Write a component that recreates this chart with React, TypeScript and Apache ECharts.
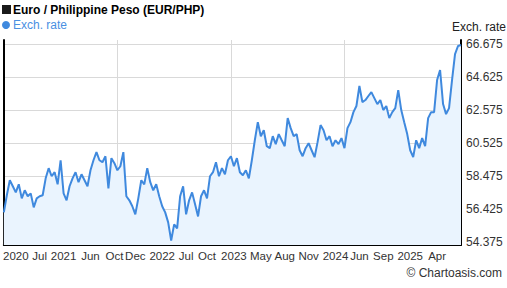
import React, { useEffect, useRef } from "react";
import * as echarts from "echarts";

const TITLE = "Euro / Philippine Peso (EUR/PHP)";
const SERIES_NAME = "Exch. rate";

// EUR/PHP exchange rate (evenly spaced samples)
const rates: number[] = [
  56.24, 57.30, 58.23, 57.86, 57.48, 57.98, 57.11, 57.61, 57.24, 57.42,
  56.55, 57.11, 57.24, 57.30, 58.35, 58.98, 58.48, 58.73, 57.98, 59.47,
  57.42, 56.99, 57.86, 58.35, 58.73, 58.11, 58.60, 58.23, 57.86, 58.85,
  59.47, 59.97, 59.47, 59.35, 59.72, 57.73, 59.60, 59.29, 58.85, 59.10,
  59.97, 57.24, 56.99, 56.62, 56.12, 57.11, 58.23, 57.98, 58.98, 58.11,
  57.61, 57.98, 57.24, 56.62, 56.24, 55.62, 54.50, 55.50, 55.25, 57.24,
  57.86, 56.12, 56.99, 57.48, 56.74, 55.99, 57.24, 57.61, 57.11, 58.48,
  58.73, 59.35, 58.48, 58.98, 58.60, 59.47, 59.72, 59.10, 59.60, 58.73,
  58.54, 58.85, 58.35, 59.47, 60.71, 61.83, 60.96, 61.33, 60.34, 60.22,
  60.96, 60.47, 61.09, 60.71, 60.34, 62.08, 61.46, 60.96, 61.09, 60.09,
  59.72, 60.22, 60.53, 60.09, 59.66, 60.59, 61.65, 61.33, 60.71, 60.96,
  60.34, 60.71, 60.47, 60.84, 60.22, 61.46, 61.83, 62.45, 62.83, 64.07,
  63.07, 63.20, 63.45, 63.69, 63.32, 62.95, 63.20, 62.58, 62.83, 62.08,
  62.45, 62.70, 63.82, 62.58, 61.83, 61.09, 60.09, 59.66, 60.71, 60.22,
  60.84, 60.34, 62.08, 62.45, 62.45, 64.44, 65.06, 62.95, 62.33, 62.70,
  64.44, 66.05, 66.55, 66.61,
];

// x-axis tick labels: [sample index, text]
const xTickLabels: [number, string][] = [
  [4, "2020"], [12, "Jul"], [20, "2021"], [29, "Jun"], [37, "Oct"],
  [44, "Dec"], [53, "2022"], [61, "Jul"], [68, "Oct"], [77, "2023"],
  [86, "May"], [94, "Aug"], [102, "Nov"], [111, "2024"], [119, "Jun"],
  [127, "Sep"], [136, "2025"], [145, "Apr"],
];

// vertical grid lines at these sample indices
const xGridIdx = [38, 76, 114];

// y-axis tick labels
const yTicks = [54.375, 56.425, 58.475, 60.525, 62.575, 64.625, 66.675];
const Y_MIN = 54.22;
const Y_MAX = 66.92;

const FONT = "'Liberation Sans', Arial, sans-serif";
const BLUE = "#3f89de";

export default function App() {
  const ref = useRef<HTMLDivElement>(null);

  useEffect(() => {
    if (!ref.current) return;
    const chart = echarts.init(ref.current, null, { renderer: "svg" });
    const labelMap = new Map<number, string>(xTickLabels);
    const categories = rates.map((_, i) => String(i));

    chart.setOption({
      animation: false,
      textStyle: { fontFamily: FONT },
      grid: { left: 1, right: 46, top: 40, bottom: 43 },
      xAxis: {
        type: "category",
        data: categories,
        boundaryGap: false,
        axisLine: { show: true, lineStyle: { color: "#000", width: 2 } },
        axisTick: { show: false },
        axisLabel: {
          interval: 0,
          hideOverlap: false,
          formatter: (_v: string, idx: number) => labelMap.get(idx) ?? "",
          color: "#333",
          fontSize: 11.5,
          fontFamily: FONT,
          margin: 5,
        },
        splitLine: {
          show: true,
          interval: (idx: number) => xGridIdx.includes(idx),
          lineStyle: { color: "#d9d9d9", width: 1 },
        },
      },
      yAxis: [
        {
          type: "value",
          position: "right",
          min: Y_MIN,
          max: Y_MAX,
          axisLine: { show: true, lineStyle: { color: "#000", width: 2 } },
          axisTick: { show: false, customValues: yTicks },
          axisLabel: {
            customValues: yTicks,
            formatter: (v: number) => v.toFixed(3),
            color: "#333",
            fontSize: 12,
            fontFamily: FONT,
            margin: 5,
          },
          splitLine: { show: true, lineStyle: { color: "#d9d9d9", width: 1 } },
        },
        {
          type: "value",
          position: "left",
          min: Y_MIN,
          max: Y_MAX,
          axisLine: { show: true, lineStyle: { color: "#000", width: 2 } },
          axisTick: { show: false },
          axisLabel: { show: false },
          splitLine: { show: false },
        },
      ],
      series: [
        {
          name: SERIES_NAME,
          type: "line",
          data: rates,
          showSymbol: false,
          symbol: "none",
          lineStyle: { color: BLUE, width: 2 },
          areaStyle: { color: "#eaf4fe", origin: "start", opacity: 1 },
        },
      ],
      graphic: [
        { type: "rect", shape: { x: 2, y: 5, width: 9, height: 9 }, style: { fill: "#1a1a1a" } },
        {
          type: "text",
          x: 13,
          y: 10,
          style: { text: TITLE, fill: "#000", font: `bold 12px ${FONT}`, textVerticalAlign: "middle" },
        },
        { type: "circle", shape: { cx: 6, cy: 25, r: 4 }, style: { fill: BLUE } },
        {
          type: "text",
          x: 13,
          y: 25,
          style: { text: SERIES_NAME, fill: "#4a90e2", font: `12px ${FONT}`, textVerticalAlign: "middle" },
        },
        {
          type: "text",
          x: 452,
          y: 27,
          style: { text: "Exch. rate", fill: "#222", font: `12px ${FONT}`, textVerticalAlign: "middle" },
        },
        {
          type: "text",
          x: 502,
          y: 273,
          style: {
            text: "© Chartoasis.com",
            fill: "#333",
            font: `12px ${FONT}`,
            textAlign: "right",
            textVerticalAlign: "middle",
          },
        },
      ],
    });
    return () => chart.dispose();
  }, []);

  return (
    <div
      ref={ref}
      style={{ position: "absolute", left: 0, top: 0, width: 507, height: 288 }}
    />
  );
}
